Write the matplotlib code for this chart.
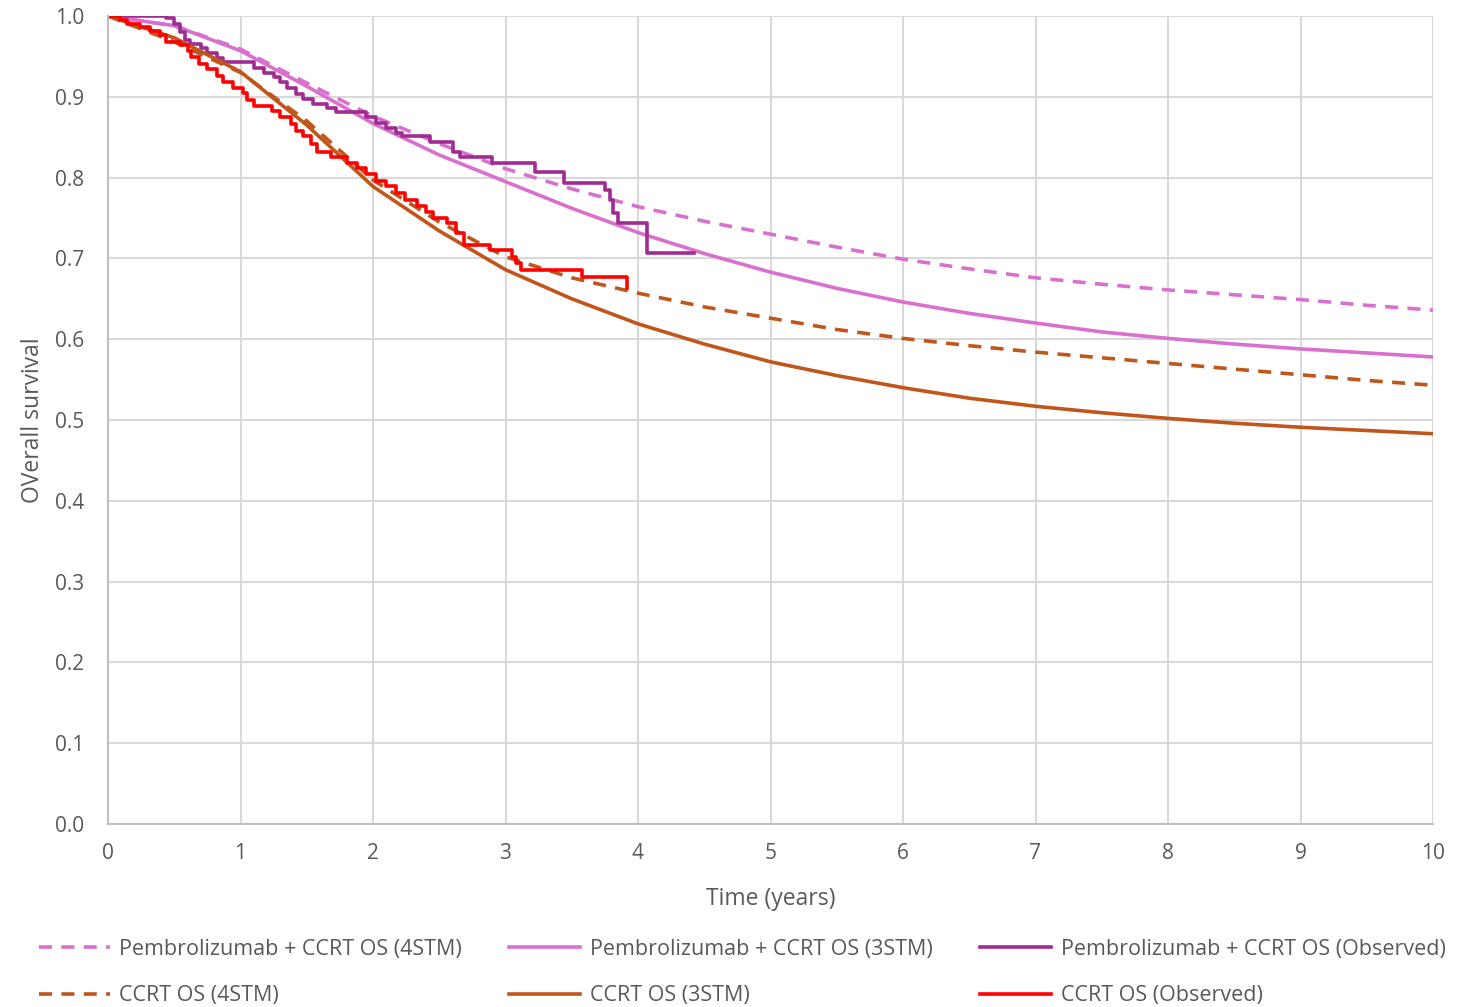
import matplotlib.pyplot as plt
from matplotlib.lines import Line2D

plt.rcParams['font.family'] = ['Open Sans', 'DejaVu Sans']

# fitted curves, read at half-year steps
t_fit = [0, 0.5, 1, 1.5, 2, 2.5, 3, 3.5, 4, 4.5, 5, 5.5, 6, 6.5, 7, 7.5, 8, 8.5, 9, 9.5, 10]
pembro_4stm = [1.0, 0.988, 0.959, 0.917, 0.876, 0.842, 0.811, 0.786, 0.764, 0.746, 0.730, 0.714, 0.699, 0.687, 0.676, 0.668, 0.661, 0.655, 0.649, 0.642, 0.636]
pembro_3stm = [1.0, 0.988, 0.957, 0.913, 0.867, 0.828, 0.795, 0.762, 0.732, 0.706, 0.683, 0.663, 0.646, 0.632, 0.620, 0.609, 0.601, 0.594, 0.588, 0.583, 0.578]
ccrt_4stm = [1.0, 0.968, 0.930, 0.870, 0.797, 0.745, 0.702, 0.676, 0.657, 0.640, 0.626, 0.612, 0.601, 0.592, 0.584, 0.577, 0.570, 0.563, 0.556, 0.549, 0.543]
ccrt_3stm = [1.0, 0.973, 0.931, 0.865, 0.789, 0.734, 0.686, 0.650, 0.619, 0.594, 0.572, 0.555, 0.540, 0.527, 0.517, 0.509, 0.502, 0.496, 0.491, 0.487, 0.483]

# observed Kaplan-Meier steps
t_pembro_obs = [0, 0.44, 0.50, 0.54, 0.58, 0.62, 0.70, 0.75, 0.82, 0.87, 1.10, 1.18, 1.25, 1.30, 1.35,
                1.42, 1.47, 1.55, 1.65, 1.72, 1.95, 2.02, 2.10, 2.17, 2.22, 2.43, 2.60, 2.66, 2.90,
                3.22, 3.44, 3.75, 3.79, 3.81, 3.85, 4.07, 4.42]
s_pembro_obs = [1.0, 0.997, 0.990, 0.980, 0.970, 0.965, 0.960, 0.954, 0.948, 0.943, 0.936, 0.930, 0.924,
                0.918, 0.911, 0.904, 0.897, 0.891, 0.886, 0.881, 0.875, 0.868, 0.861, 0.855, 0.851,
                0.844, 0.832, 0.826, 0.818, 0.807, 0.793, 0.785, 0.772, 0.756, 0.744, 0.707, 0.707]

t_ccrt_obs = [0, 0.09, 0.14, 0.24, 0.32, 0.39, 0.44, 0.54, 0.60, 0.63, 0.69, 0.75, 0.82, 0.87, 0.94,
              1.02, 1.05, 1.10, 1.24, 1.30, 1.38, 1.42, 1.47, 1.53, 1.58, 1.68, 1.80, 1.88, 1.95,
              2.02, 2.10, 2.17, 2.24, 2.33, 2.40, 2.45, 2.56, 2.63, 2.69, 2.88, 3.05, 3.08, 3.12,
              3.58, 3.92]
s_ccrt_obs = [1.0, 0.995, 0.990, 0.986, 0.982, 0.977, 0.968, 0.964, 0.957, 0.949, 0.940, 0.935, 0.926,
              0.918, 0.911, 0.905, 0.896, 0.889, 0.882, 0.875, 0.866, 0.858, 0.851, 0.842, 0.832,
              0.826, 0.818, 0.812, 0.805, 0.796, 0.789, 0.781, 0.772, 0.765, 0.758, 0.750, 0.744,
              0.731, 0.717, 0.710, 0.702, 0.694, 0.686, 0.677, 0.663]

labels = ['Pembrolizumab + CCRT OS (4STM)', 'Pembrolizumab + CCRT OS (3STM)',
          'Pembrolizumab + CCRT OS (Observed)', 'CCRT OS (4STM)', 'CCRT OS (3STM)', 'CCRT OS (Observed)']

pink = '#D970CF'
purple = '#A02B93'
brown = '#C0561C'
red = '#FF0000'
grey_txt = '#595959'
lw = 2.6
dash = (3.6, 2.6)

fig = plt.figure(figsize=(14.65, 10.07), dpi=100)
ax = fig.add_axes([108 / 1465, 1 - 824 / 1007, 1325 / 1465, 808 / 1007])

ax.plot(t_fit, pembro_4stm, color=pink, lw=lw, dashes=dash)
ax.plot(t_fit, pembro_3stm, color=pink, lw=lw)
ax.plot(t_pembro_obs, s_pembro_obs, color=purple, lw=lw, drawstyle='steps-post')
ax.plot(t_fit, ccrt_4stm, color=brown, lw=lw, dashes=dash)
ax.plot(t_fit, ccrt_3stm, color=brown, lw=lw)
ax.plot(t_ccrt_obs, s_ccrt_obs, color=red, lw=lw, drawstyle='steps-post')

ax.set_xlim(0, 10)
ax.set_ylim(0, 1.0)
ax.set_xticks(range(0, 11))
ax.set_yticks([i / 10 for i in range(11)])
ax.set_yticklabels([f'{i / 10:.1f}' for i in range(11)])
ax.grid(True, color='#D9D9D9', lw=1.5)
ax.set_axisbelow(True)
for s in ['top', 'right']:
    ax.spines[s].set_visible(False)
ax.spines['left'].set_color('#BFBFBF')
ax.spines['bottom'].set_color('#BFBFBF')
ax.spines['left'].set_linewidth(1.5)
ax.spines['bottom'].set_linewidth(1.5)
ax.tick_params(length=0, labelsize=15, colors=grey_txt, pad=14)
ax.tick_params(axis='y', pad=17)
ax.set_xlabel('Time (years)', fontsize=16.5, color=grey_txt, labelpad=16)
ax.set_ylabel('OVerall survival', fontsize=16.5, color=grey_txt, labelpad=7)

# legend: two rows, three columns
h = [Line2D([], [], color=pink, lw=lw, dashes=dash),
     Line2D([], [], color=pink, lw=lw),
     Line2D([], [], color=purple, lw=lw),
     Line2D([], [], color=brown, lw=lw, dashes=dash),
     Line2D([], [], color=brown, lw=lw),
     Line2D([], [], color=red, lw=lw)]
order = [0, 3, 1, 4, 2, 5]
fig.legend([h[i] for i in order], [labels[i] for i in order], ncol=3, frameon=False,
           loc='upper left', bbox_to_anchor=(30 / 1465, 1 - 930 / 1007),
           fontsize=15.5, handlelength=3.3, handletextpad=0.45, columnspacing=2.2,
           labelspacing=1.2, labelcolor=grey_txt, borderaxespad=0)

fig.savefig('out.png', dpi=100)
